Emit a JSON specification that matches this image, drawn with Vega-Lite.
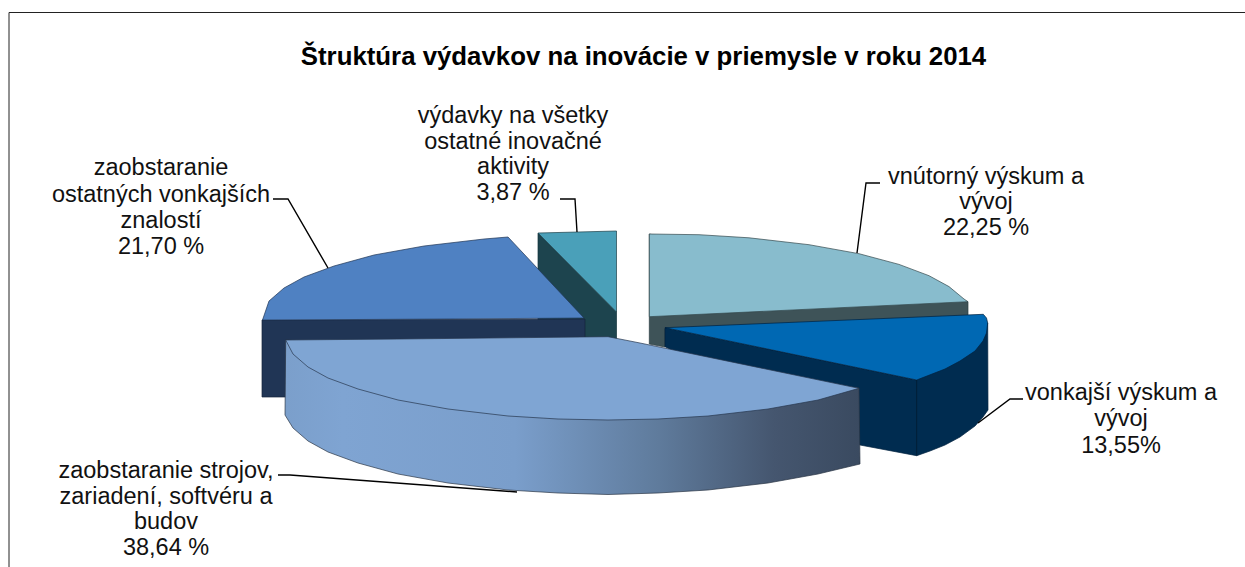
{
"$schema":"https://vega.github.io/schema/vega-lite/v6.json",
"width":1245,"height":567,"padding":0,"autosize":{"type":"none"},
"background":"#ffffff",
"config":{"view":{"stroke":null},"font":"Liberation Sans"},
"title":{"text":"Štruktúra výdavkov na inovácie v priemysle v roku 2014","font":"Liberation Sans","fontWeight":"bold","fontSize":25.8,"color":"#000000","anchor":"middle","baseline":"middle","dy":83,"dx":21,"offset":0},
"datasets":{
"blueSide":[{"i":0,"x":262,"y":320},{"i":1,"x":585,"y":319},{"i":2,"x":585,"y":397},{"i":3,"x":262,"y":397},{"i":4,"x":262,"y":320}],
"tealSide":[{"i":0,"x":538,"y":233},{"i":1,"x":616.5,"y":312},{"i":2,"x":616.5,"y":340},{"i":3,"x":538,"y":340},{"i":4,"x":538,"y":233}],
"tealTop":[{"i":0,"x":538,"y":233},{"i":1,"x":578,"y":232},{"i":2,"x":616.5,"y":231},{"i":3,"x":616.5,"y":312},{"i":4,"x":538,"y":233}],
"blueTop":[{"i":0,"x":262.5,"y":320},{"i":1,"x":269,"y":301},{"i":2,"x":284,"y":288},{"i":3,"x":304,"y":277},{"i":4,"x":334,"y":266},{"i":5,"x":374,"y":255},{"i":6,"x":424,"y":246},{"i":7,"x":484,"y":239},{"i":8,"x":508,"y":237},{"i":9,"x":584,"y":318},{"i":10,"x":450,"y":319},{"i":11,"x":262.5,"y":320}],
"lightSide":[{"i":0,"x":649.3,"y":234},{"i":1,"x":968,"y":301.7},{"i":2,"x":968,"y":316},{"i":3,"x":665,"y":329},{"i":4,"x":665,"y":347},{"i":5,"x":649.3,"y":344},{"i":6,"x":649.3,"y":234}],
"lightTop":[{"i":0,"x":649.3,"y":234},{"i":1,"x":699,"y":234.7},{"i":2,"x":749,"y":237.8},{"i":3,"x":809,"y":244.7},{"i":4,"x":859,"y":253.7},{"i":5,"x":899,"y":264.4},{"i":6,"x":929,"y":275.7},{"i":7,"x":949,"y":286.6},{"i":8,"x":964,"y":299},{"i":9,"x":968,"y":301.7},{"i":10,"x":649.3,"y":316.7},{"i":11,"x":649.3,"y":234}],
"navySide":[{"i":0,"x":665,"y":327.7},{"i":1,"x":916.7,"y":380},{"i":2,"x":987.7,"y":323},{"i":3,"x":988,"y":410},{"i":4,"x":983,"y":417},{"i":5,"x":975,"y":426},{"i":6,"x":960,"y":437},{"i":7,"x":945,"y":445},{"i":8,"x":930,"y":451},{"i":9,"x":916.7,"y":455.7},{"i":10,"x":860,"y":445},{"i":11,"x":665,"y":346.7},{"i":12,"x":665,"y":327.7}],
"navyEdge":[{"i":0,"x":916.7,"y":380},{"i":1,"x":916.7,"y":455.7}],
"navyTop":[{"i":0,"x":665,"y":327.7},{"i":1,"x":983.3,"y":314.3},{"i":2,"x":986.5,"y":318},{"i":3,"x":987.7,"y":323},{"i":4,"x":986.5,"y":333},{"i":5,"x":983,"y":341},{"i":6,"x":975,"y":351},{"i":7,"x":960,"y":361},{"i":8,"x":945,"y":369},{"i":9,"x":916.7,"y":380},{"i":10,"x":665,"y":327.7}],
"bigSide":[{"i":0,"x":285.7,"y":340},{"i":1,"x":859,"y":388},{"i":2,"x":860,"y":464},{"i":3,"x":818,"y":474},{"i":4,"x":768,"y":483},{"i":5,"x":708,"y":490},{"i":6,"x":658,"y":493},{"i":7,"x":608,"y":494.5},{"i":8,"x":558,"y":493},{"i":9,"x":508,"y":490},{"i":10,"x":448,"y":483},{"i":11,"x":398,"y":474},{"i":12,"x":358,"y":463},{"i":13,"x":328,"y":452},{"i":14,"x":308,"y":441},{"i":15,"x":293,"y":428},{"i":16,"x":285,"y":415},{"i":17,"x":285.7,"y":340}],
"bigTop":[{"i":0,"x":285.7,"y":340},{"i":1,"x":400,"y":339},{"i":2,"x":608,"y":336.7},{"i":3,"x":640,"y":343},{"i":4,"x":859,"y":388.3},{"i":5,"x":818,"y":400},{"i":6,"x":768,"y":409},{"i":7,"x":708,"y":416},{"i":8,"x":658,"y":419},{"i":9,"x":608,"y":420},{"i":10,"x":558,"y":419},{"i":11,"x":508,"y":416},{"i":12,"x":448,"y":409},{"i":13,"x":398,"y":400},{"i":14,"x":358,"y":389},{"i":15,"x":328,"y":378},{"i":16,"x":308,"y":367},{"i":17,"x":293,"y":354},{"i":18,"x":285.7,"y":340}],
"frame":[{"i":0,"x":9,"y":567},{"i":1,"x":9,"y":12.5},{"i":2,"x":1245,"y":12.5}],
"leaders":[
{"k":"a","i":0,"x":857,"y":253},{"k":"a","i":1,"x":866,"y":183},{"k":"a","i":2,"x":880,"y":183},
{"k":"b","i":0,"x":978,"y":423},{"k":"b","i":1,"x":1010,"y":399},{"k":"b","i":2,"x":1023,"y":399},
{"k":"c","i":0,"x":278,"y":475},{"k":"c","i":1,"x":290,"y":475},{"k":"c","i":2,"x":517,"y":492},
{"k":"d","i":0,"x":273,"y":199},{"k":"d","i":1,"x":288,"y":199},{"k":"d","i":2,"x":328,"y":268},
{"k":"e","i":0,"x":560,"y":199},{"k":"e","i":1,"x":575,"y":199},{"k":"e","i":2,"x":577,"y":232}],
"labels":[
{"t":"výdavky na všetky","x":513,"y":116},{"t":"ostatné inovačné","x":513,"y":142},{"t":"aktivity","x":513,"y":167},{"t":"3,87 %","x":513,"y":193},
{"t":"zaobstaranie","x":161,"y":168},{"t":"ostatných vonkajších","x":161,"y":195},{"t":"znalostí","x":161,"y":221},{"t":"21,70 %","x":161,"y":247},
{"t":"vnútorný výskum a","x":986,"y":177},{"t":"vývoj","x":986,"y":202},{"t":"22,25 %","x":986,"y":228},
{"t":"vonkajší výskum a","x":1121,"y":393},{"t":"vývoj","x":1121,"y":419},{"t":"13,55%","x":1121,"y":446},
{"t":"zaobstaranie strojov,","x":166,"y":471},{"t":"zariadení, softvéru a","x":166,"y":497},{"t":"budov","x":166,"y":522},{"t":"38,64 %","x":166,"y":548}]
},
"encoding":{
"x":{"field":"x","type":"quantitative","scale":{"domain":[0,1245]},"axis":null},
"y":{"field":"y","type":"quantitative","scale":{"domain":[567,0]},"axis":null}
},
"layer":[
{"data":{"name":"frame"},"mark":{"type":"line","stroke":"#222222","strokeWidth":1},"encoding":{"order":{"field":"i"}}},
{"data":{"name":"tealSide"},"mark":{"type":"line","fill":"#1d444e","stroke":"#16343c","strokeWidth":0.7},"encoding":{"order":{"field":"i"}}},
{"data":{"name":"tealTop"},"mark":{"type":"line","fill":"#4aa0b9","stroke":"#1c3f48","strokeWidth":0.7},"encoding":{"order":{"field":"i"}}},
{"data":{"name":"blueSide"},"mark":{"type":"line","fill":"#203555","stroke":"#15243b","strokeWidth":0.7},"encoding":{"order":{"field":"i"}}},
{"data":{"name":"blueTop"},"mark":{"type":"line","fill":"#4f81c2","stroke":"#1f3555","strokeWidth":0.7},"encoding":{"order":{"field":"i"}}},
{"data":{"name":"lightSide"},"mark":{"type":"line","fill":"#3e5358","stroke":"#2d3d41","strokeWidth":0.7},"encoding":{"order":{"field":"i"}}},
{"data":{"name":"lightTop"},"mark":{"type":"line","fill":"#88bccd","stroke":"#33474c","strokeWidth":0.7},"encoding":{"order":{"field":"i"}}},
{"data":{"name":"navySide"},"mark":{"type":"line","fill":"#002c50","stroke":"#00213d","strokeWidth":0.7},"encoding":{"order":{"field":"i"}}},
{"data":{"name":"navyEdge"},"mark":{"type":"line","stroke":"#001a30","strokeWidth":0.8},"encoding":{"order":{"field":"i"}}},
{"data":{"name":"navyTop"},"mark":{"type":"line","fill":"#0068b3","stroke":"#00213d","strokeWidth":0.7},"encoding":{"order":{"field":"i"}}},
{"data":{"name":"bigSide"},"mark":{"type":"line","stroke":"#2a3545","strokeWidth":0.7,"fill":{"gradient":"linear","x1":0,"y1":0,"x2":1,"y2":0,"stops":[{"offset":0,"color":"#7b9fcb"},{"offset":0.1,"color":"#7fa4d2"},{"offset":0.4,"color":"#7a9ecb"},{"offset":0.65,"color":"#5f7b9c"},{"offset":0.85,"color":"#45566f"},{"offset":1,"color":"#3a4a60"}]}},"encoding":{"order":{"field":"i"}}},
{"data":{"name":"bigTop"},"mark":{"type":"line","fill":"#7fa5d3","stroke":"#26364d","strokeWidth":0.7},"encoding":{"order":{"field":"i"}}},
{"data":{"name":"leaders"},"mark":{"type":"line","stroke":"#000000","strokeWidth":1.4},"encoding":{"order":{"field":"i"},"detail":{"field":"k"}}},
{"data":{"name":"labels"},"mark":{"type":"text","font":"Liberation Sans","fontSize":23.5,"color":"#111111","align":"center","baseline":"middle"},"encoding":{"text":{"field":"t"}}}
]
}
